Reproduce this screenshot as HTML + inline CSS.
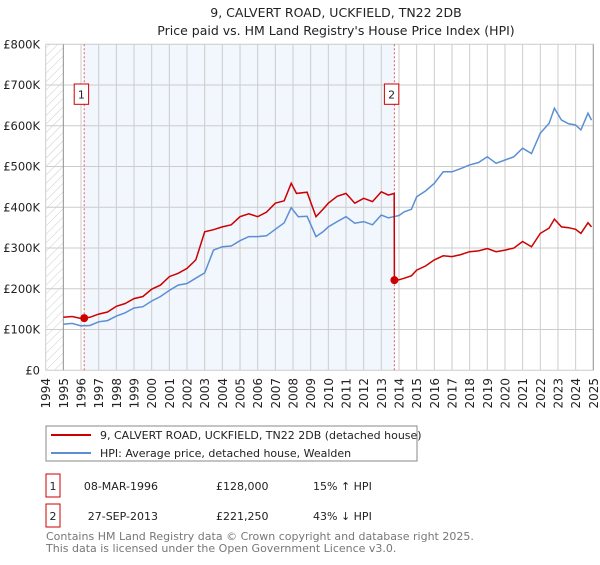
<!DOCTYPE html>
<html><head><meta charset="utf-8"><style>
body{margin:0;background:#fff;font-family:"Liberation Sans","DejaVu Sans",sans-serif;}
svg text{font-family:"DejaVu Sans","Liberation Sans",sans-serif;}
</style></head><body>
<svg id="chart" width="600" height="560" xmlns="http://www.w3.org/2000/svg">
<defs><pattern id="hatch" patternUnits="userSpaceOnUse" width="6" height="6" patternTransform="rotate(45)"><line x1="0" y1="0" x2="0" y2="6" stroke="#ccc" stroke-width="1"/></pattern></defs>
<text x="336" y="17" text-anchor="middle" font-size="12.5" fill="#222">9, CALVERT ROAD, UCKFIELD, TN22 2DB</text>
<text x="336" y="35" text-anchor="middle" font-size="12.5" fill="#222">Price paid vs. HM Land Registry's House Price Index (HPI)</text>
<g id="plot"></g>
<rect x="46" y="426" width="371" height="35" fill="#fff" stroke="#888"/>
<line x1="51" y1="435" x2="91" y2="435" stroke="#cc0000" stroke-width="2"/>
<text x="100" y="439" font-size="11" fill="#222">9, CALVERT ROAD, UCKFIELD, TN22 2DB (detached house)</text>
<line x1="51" y1="453" x2="91" y2="453" stroke="#5b8fd4" stroke-width="2"/>
<text x="100" y="457" font-size="11" fill="#222">HPI: Average price, detached house, Wealden</text>
<rect x="46" y="474" width="14" height="23" fill="#fff" stroke="#cc0000"/>
<text x="53" y="490" text-anchor="middle" font-size="11" fill="#222">1</text>
<text x="158" y="490" text-anchor="end" font-size="11" fill="#222">08-MAR-1996</text>
<text x="216" y="490" font-size="11" fill="#222">£128,000</text>
<text x="313" y="490" font-size="11" fill="#222">15% ↑ HPI</text>
<rect x="46" y="504" width="14" height="23" fill="#fff" stroke="#cc0000"/>
<text x="53" y="520" text-anchor="middle" font-size="11" fill="#222">2</text>
<text x="158" y="520" text-anchor="end" font-size="11" fill="#222">27-SEP-2013</text>
<text x="216" y="520" font-size="11" fill="#222">£221,250</text>
<text x="313" y="520" font-size="11" fill="#222">43% ↓ HPI</text>
<text x="46" y="540" font-size="11" fill="#777">Contains HM Land Registry data © Crown copyright and database right 2025.</text>
<text x="46" y="552" font-size="11" fill="#777">This data is licensed under the Open Government Licence v3.0.</text>
</svg>
<script>
const yTicks=[0,100000,200000,300000,400000,500000,600000,700000,800000];
const yTickLabels=["£0","£100K","£200K","£300K","£400K","£500K","£600K","£700K","£800K"];
const years=[1994,1995,1996,1997,1998,1999,2000,2001,2002,2003,2004,2005,2006,2007,2008,2009,2010,2011,2012,2013,2014,2015,2016,2017,2018,2019,2020,2021,2022,2023,2024,2025];
const hpiDates=[1995.0,1995.5,1996.0,1996.5,1997,1997.5,1998,1998.5,1999,1999.5,2000,2000.5,2001,2001.5,2002,2002.5,2003,2003.5,2004,2004.5,2005,2005.5,2006,2006.5,2007,2007.5,2007.9,2008.3,2008.8,2009.3,2009.7,2010,2010.5,2011,2011.5,2012,2012.5,2013,2013.4,2013.7,2014.0,2014.3,2014.7,2015,2015.5,2016,2016.5,2017,2017.5,2018,2018.5,2019,2019.5,2020,2020.5,2021,2021.5,2022,2022.5,2022.8,2023.2,2023.6,2024,2024.3,2024.7,2024.9];
const hpiValues=[113000,115000,109000,110000,119000,122000,133000,141000,153000,156000,170000,181000,196000,209000,213000,226000,239000,295000,303000,305000,318000,328000,328000,330000,346000,362000,399000,377000,378000,328000,340000,352000,365000,377000,361000,365000,357000,381000,374000,377000,380000,389000,395000,426000,440000,459000,487000,487000,495000,504000,510000,524000,508000,516000,524000,545000,532000,582000,606000,643000,614000,605000,602000,590000,631000,614000];
const priceDates=[1995.0,1995.5,1996.0,1996.18,1996.5,1997,1997.5,1998,1998.5,1999,1999.5,2000,2000.5,2001,2001.5,2002,2002.5,2003,2003.5,2004,2004.5,2005,2005.5,2006,2006.5,2007,2007.5,2007.9,2008.2,2008.8,2009.3,2009.7,2010,2010.5,2011,2011.5,2012,2012.5,2013,2013.4,2013.73,2013.74,2014.0,2014.3,2014.7,2015,2015.5,2016,2016.5,2017,2017.5,2018,2018.5,2019,2019.5,2020,2020.5,2021,2021.5,2022,2022.5,2022.8,2023.2,2023.6,2024,2024.3,2024.7,2024.9];
const priceValues=[130000,132000,127000,128000,130000,138000,143000,157000,164000,176000,181000,199000,209000,230000,238000,250000,271000,340000,345000,352000,357000,377000,384000,377000,388000,410000,416000,459000,434000,437000,377000,395000,410000,427000,434000,410000,422000,414000,438000,430000,434000,221250,222000,226000,232000,246000,256000,271000,281000,279000,284000,291000,293000,299000,291000,295000,300000,316000,303000,336000,349000,371000,352000,350000,346000,336000,362000,352000];
const saleDates=[1996.18,2013.74];
const saleValues=[128000,221250];

const X0=45.7,X1=593.3,Y0=370.3,Y1=44.3;
const xs=v=>X0+(v-1994)/(2025-1994)*(X1-X0);
const ys=v=>Y0-(v/800000)*(Y0-Y1);
const NS="http://www.w3.org/2000/svg";
const g=document.getElementById('plot');
function mk(t,a){const e=document.createElementNS(NS,t);for(const k in a)e.setAttribute(k,a[k]);g.appendChild(e);return e;}
let e;
e=mk('rect',{x:X0,y:Y1,width:X1-X0,height:Y0-Y1,fill:'#fff'});


e=mk('rect',{x:X0,y:Y1,width:xs(1995)-X0,height:Y0-Y1,fill:'url(#hatch)'});


e=mk('rect',{x:xs(saleDates[0]),y:Y1,width:xs(saleDates[1])-xs(saleDates[0]),height:Y0-Y1,fill:'#f2f6fd'});


years.forEach(yr=>{
 e=mk('line',{x1:xs(yr),x2:xs(yr),y1:Y1,y2:Y0,stroke:'#ccc','stroke-width':1});
 
 
 const x=xs(yr)+4.5;
 e=mk('text',{x:x,y:378,transform:`rotate(-90 ${x} 378)`,'text-anchor':'end','font-size':12,fill:'#222'});
 e.textContent=yr;
 
 
});
yTicks.forEach((v,i)=>{
 e=mk('line',{x1:X0,x2:X1,y1:ys(v),y2:ys(v),stroke:'#ccc','stroke-width':1});
 
 
 e=mk('text',{x:40,y:ys(v)+4,'text-anchor':'end','font-size':11.5,fill:'#222'});
 e.textContent=yTickLabels[i];
 
 
});
e=mk('line',{x1:xs(1995),x2:xs(1995),y1:Y1,y2:Y0,stroke:'#999','stroke-width':1});


e=mk('line',{x1:X1,x2:X1,y1:Y1,y2:Y0,stroke:'#999','stroke-width':1});


saleDates.forEach((d,i)=>{
 e=mk('line',{x1:xs(d),x2:xs(d),y1:Y1,y2:Y0,stroke:'#e06060','stroke-width':1,'stroke-dasharray':'2,2'});
 
 
 e=mk('rect',{x:xs(d)-10,y:84,width:14.4,height:20.3,fill:'#fff',stroke:'#cc0000'});
 
 
 e=mk('text',{x:xs(d)-2.8,y:98.5,'text-anchor':'middle','font-size':11,fill:'#222'});
 e.textContent=String(i+1);
 
 
});
e=mk('path',{d:hpiDates.map((d,i)=>(i?'L':'M')+xs(d).toFixed(1)+','+ys(hpiValues[i]).toFixed(1)).join(''),fill:'none',stroke:'#5b8fd4','stroke-width':1.5});


e=mk('path',{d:priceDates.map((d,i)=>(i?'L':'M')+xs(d).toFixed(1)+','+ys(priceValues[i]).toFixed(1)).join(''),fill:'none',stroke:'#cc0000','stroke-width':1.5});


saleDates.forEach((d,i)=>{
 e=mk('circle',{cx:xs(d),cy:ys(saleValues[i]),r:4,fill:'#cc0000'});
 
 
});
</script>
</body></html>
